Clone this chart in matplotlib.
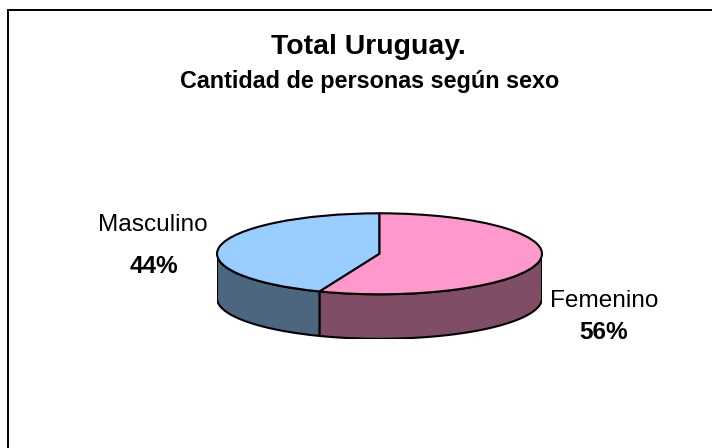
import numpy as np
import matplotlib
matplotlib.use("Agg")
import matplotlib.pyplot as plt
from matplotlib.patches import Polygon

# ---- data ----
categories = ["Masculino", "Femenino"]
shares = [44, 56]
top_colors = ["#99CCFF", "#FF99CC"]
side_colors = ["#4D6680", "#804D66"]
title = "Total Uruguay."
subtitle = "Cantidad de personas según sexo"

plt.rcParams['font.family'] = ['Liberation Sans', 'DejaVu Sans']

W, H = 712, 448
fig = plt.figure(figsize=(W / 100, H / 100), dpi=100)

# background axes in pixel coordinates
bg = fig.add_axes([0, 0, 1, 1])
bg.set_xlim(0, W)
bg.set_ylim(H, 0)
bg.axis('off')
bg.plot([8, 8, W + 5], [H + 5, 10, 10], color='black', lw=1.4, solid_joinstyle='miter')

bg.text(368, 54, title, ha='center', va='baseline', fontsize=20.4, fontweight='bold')
bg.text(370, 88, subtitle, ha='center', va='baseline', fontsize=16.8, fontweight='bold')

# pie axes (squashed ellipse)
b_px = 40.5
depth_px = 44.5
a_px = 162.5
cx, top_y = 379.5, 213.3
d = depth_px / b_px
ax = fig.add_axes([(cx - a_px) / W, (H - (top_y + 2 * b_px + depth_px)) / H,
                   2 * a_px / W, (2 * b_px + depth_px) / H])

edge_lw = 1.5
wedges, _ = ax.pie(shares, colors=top_colors, startangle=90, counterclock=True,
                   wedgeprops=dict(edgecolor='black', linewidth=edge_lw, zorder=3))
ax.set_aspect('auto')
ax.set_xlim(-1, 1)
ax.set_ylim(-1 - d, 1)
ax.axis('off')

# visible side walls
total = sum(shares)
start = 90.0
for val, sc in zip(shares, side_colors):
    end = start + 360.0 * val / total
    # visible front part: angles in [180, 360] (mod 360)
    for off in (0, 360):
        lo = max(start, 180 + off)
        hi = min(end, 360 + off)
        if hi > lo:
            t = np.radians(np.linspace(lo, hi, 200))
            xs = np.cos(t)
            ys = np.sin(t)
            pts = np.concatenate([np.column_stack([xs, ys]),
                                  np.column_stack([xs[::-1], ys[::-1] - d])])
            ax.add_patch(Polygon(pts, closed=True, facecolor=sc, edgecolor='black',
                                 linewidth=edge_lw, zorder=1, joinstyle='round'))
    start = end

# labels
lab_size = 17.6
pct = [f"{round(100 * v / total)}%" for v in shares]
bg.text(153, 231, categories[0], ha='center', va='baseline', fontsize=lab_size)
bg.text(154, 273, pct[0], ha='center', va='baseline', fontsize=lab_size, fontweight='bold')
bg.text(604, 307, categories[1], ha='center', va='baseline', fontsize=lab_size)
bg.text(604, 339, pct[1], ha='center', va='baseline', fontsize=lab_size, fontweight='bold')

fig.savefig("out.png", dpi=100, facecolor='white')
